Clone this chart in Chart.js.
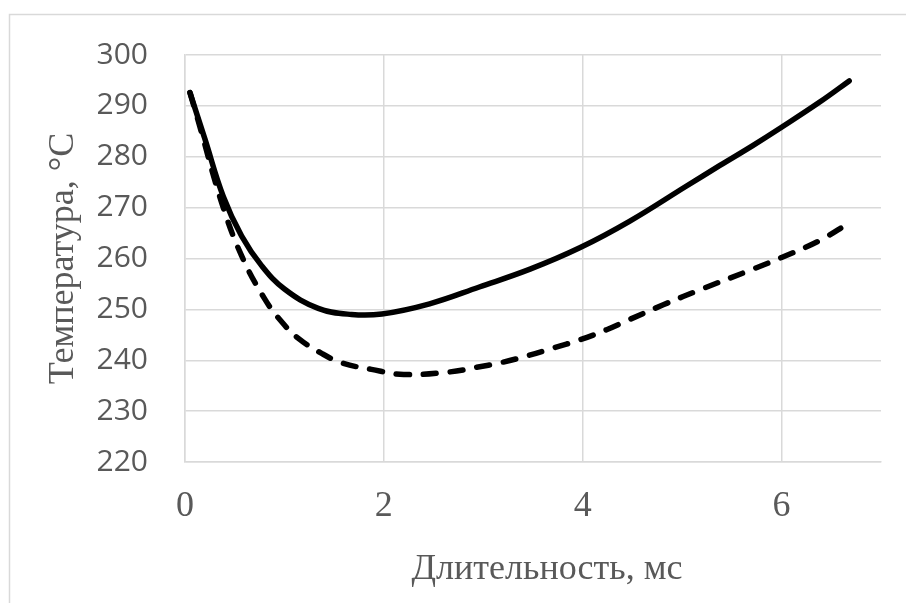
<!DOCTYPE html>
<html>
<head>
<meta charset="utf-8">
<script src="https://cdn.jsdelivr.net/npm/chart.js@4/dist/chart.umd.min.js"></script>
<style>
  body { margin: 0; background: #fff; }
  canvas { display: block; }
</style>
</head>
<body>
<canvas id="tempChart" width="906" height="603"></canvas>
<script>
// Data
const timeSolid = [0.05, 0.2, 0.385, 0.57, 0.77, 1.0, 1.34, 1.675, 1.98, 2.46, 2.96, 3.47, 3.97, 4.47, 5.04, 5.38, 5.71, 6.0, 6.38, 6.68];
const tempSolid = [292.6, 283.5, 272.2, 264.4, 258.6, 254.0, 250.2, 249.0, 249.1, 251.1, 254.4, 257.9, 262.1, 267.3, 274.2, 278.3, 282.2, 285.8, 290.7, 294.9];

const timeDashed = [0.05, 0.134, 0.37, 0.57, 0.8, 0.97, 1.14, 1.37, 1.575, 1.875, 2.2, 2.66, 2.93, 3.17, 3.43, 3.7, 3.97, 4.24, 4.47, 4.81, 5.21, 5.645, 6.0, 6.38, 6.68];
const tempDashed = [292.6, 287.0, 270.9, 260.5, 252.1, 247.6, 244.3, 241.4, 239.5, 238.2, 237.2, 237.7, 238.6, 239.5, 240.8, 242.4, 244.0, 246.0, 248.0, 250.9, 254.1, 257.4, 260.2, 263.5, 267.0];

const xTicks = [0, 2, 4, 6];
const yTicks = [220, 230, 240, 250, 260, 270, 280, 290, 300];
const xTitle = 'Длительность, мс';
const yTitle = 'Температура, °C';

const toPoints = (xs, ys) => xs.map((x, i) => ({x: x, y: ys[i]}));

const gridColor = '#d9d9d9';
const textColor = '#595959';
const serif = '"Liberation Serif", "Times New Roman", serif';

// light frame around the whole chart (runs off the picture on the right and bottom)
// and the x axis title, which sits a little right of the plot centre
const framePlugin = {
    id: 'frame',
    beforeDraw(chart) {
        const c = chart.ctx;
        c.save();
        c.fillStyle = '#fff';
        c.fillRect(0, 0, chart.width, chart.height);
        c.strokeStyle = gridColor;
        c.lineWidth = 1.5;
        c.strokeRect(9.5, 14.5, 2000, 2000);
        c.restore();
    },
    afterDraw(chart) {
        const c = chart.ctx;
        const area = chart.chartArea;
        c.save();
        c.fillStyle = textColor;
        c.font = '36px ' + serif;
        c.textAlign = 'center';
        c.textBaseline = 'middle';
        c.fillText(xTitle, (area.left + area.right) / 2 + 14, 570);
        c.restore();
    }
};

const ctx = document.getElementById('tempChart').getContext('2d');

new Chart(ctx, {
    type: 'line',
    data: {
        datasets: [{
            data: toPoints(timeSolid, tempSolid),
            borderColor: '#000',
            borderWidth: 5.5,
            pointRadius: 0,
            tension: 0.4,
            borderCapStyle: 'round'
        }, {
            data: toPoints(timeDashed, tempDashed),
            borderColor: '#000',
            borderWidth: 5.5,
            borderDash: [13, 14],
            borderCapStyle: 'round',
            pointRadius: 0,
            tension: 0.4
        }]
    },
    options: {
        responsive: false,
        animation: false,
        layout: {
            padding: {left: 0, top: 50, right: 25, bottom: 0}
        },
        plugins: {
            legend: {display: false},
            tooltip: {enabled: false}
        },
        scales: {
            x: {
                type: 'linear',
                min: 0,
                max: 7,
                afterFit: (scale) => { scale.height = 141; },
                afterBuildTicks: (scale) => { scale.ticks = xTicks.map(v => ({value: v})); },
                grid: {color: gridColor, lineWidth: 1.5, drawTicks: false},
                border: {color: gridColor, width: 1.5},
                ticks: {
                    color: textColor,
                    padding: 23,
                    font: {family: serif, size: 36}
                }
            },
            y: {
                min: 220,
                max: 300,
                afterFit: (scale) => { scale.width = 185; },
                afterBuildTicks: (scale) => { scale.ticks = yTicks.map(v => ({value: v})); },
                grid: {color: gridColor, lineWidth: 1.5, drawTicks: false},
                border: {color: gridColor, width: 1.5},
                ticks: {
                    color: textColor,
                    padding: 37,
                    font: {family: '"Open Sans", sans-serif', size: 30}
                },
                title: {
                    display: true,
                    text: yTitle,
                    color: textColor,
                    padding: {top: 42, bottom: 0},
                    font: {family: serif, size: 36}
                }
            }
        }
    },
    plugins: [framePlugin]
});
</script>
</body>
</html>
